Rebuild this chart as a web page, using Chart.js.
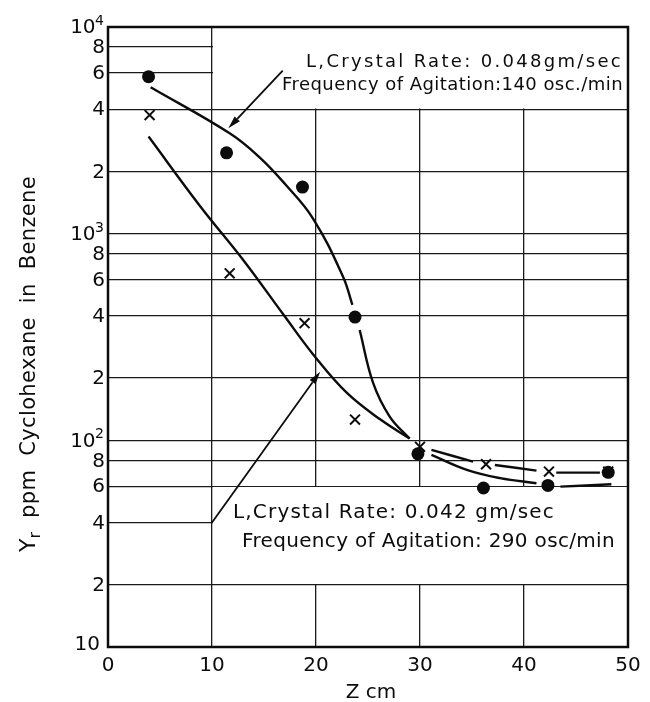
<!DOCTYPE html>
<html>
<head>
<meta charset="utf-8">
<script src="https://cdn.jsdelivr.net/npm/chart.js@4/dist/chart.umd.min.js"></script>
<style>
  html, body { margin: 0; padding: 0; background: #fff; }
  #wrap { width: 650px; height: 702px; }
</style>
</head>
<body>
<div id="wrap"><canvas id="c" width="650" height="702"></canvas></div>
<script>
// Measured points: residual cyclohexane Yr (ppm) against column height Z (cm)
const dotsZ  = [3.9, 11.4, 18.7, 23.75, 29.8, 36.1, 42.3, 48.1];   // 0.048 gm/sec, 140 osc/min
const dotsY  = [5750, 2460, 1680, 395, 86, 58.8, 60.5, 70];
const crossZ = [4.0, 11.7, 18.9, 23.75, 30.0, 36.35, 42.4, 48.1];  // 0.042 gm/sec, 290 osc/min
const crossY = [3750, 643, 369, 126, 93, 76.6, 70.6, 70.6];

// Hand-faired curves (null = pen lifted around a marker)
const curve140Z = [4.1, 11.7, 14.6, 17.0, 19.7, 22.6, 23.5, 23.75, 24.2, 25.5, 27.1, 29.0, 30.0, 31.1, 34.5, 37.7, 41.2, 42.3, 43.5, 48.4];
const curve140Y = [5110, 3060, 2336, 1744, 1187, 619, 452, null, 342, 189, 130, 102, null, 85, 71.9, 65.6, 62, null, 59.7, 61.3];
const curve290Z = [3.9, 8.9, 13.0, 16.9, 19.9, 23.0, 26.2, 29.0, 30.0, 31.1, 35.1, 36.35, 37.2, 41.2, 42.4, 43.1, 47.3];
const curve290Y = [2950, 1350, 746, 404, 254, 169, 126, 102, null, 89.9, 78.9, null, 76, 71.4, null, 69.8, 69.8];

// Axis ticks
const zTicks = [0, 10, 20, 30, 40, 50];
const yGrid  = [10, 20, 40, 60, 80, 100, 200, 400, 600, 800, 1000, 2000, 4000, 6000, 8000, 10000];
const yLabels = ['10', '2', '4', '6', '8', '10|2', '2', '4', '6', '8', '10|3', '2', '4', '6', '8', '10|4'];

// Annotation texts and arrows (from -> tip, in data units)
const note140 = ['L,Crystal Rate: 0.048gm/sec', 'Frequency of Agitation:140 osc./min'];
const note290 = ['L,Crystal Rate: 0.042 gm/sec', 'Frequency of Agitation: 290 osc/min'];
const arrow140 = [[16.8, 6150], [11.57, 3234]];
const arrow290 = [[10.0, 40], [20.4, 215]];

const FONT = '"DejaVu Sans", "Liberation Sans", sans-serif';
const INK = '#0c0c0c';

function pts(xs, ys) { return xs.map((x, i) => ({ x: x, y: ys[i] })); }

// break a faired curve into pen strokes wherever the value is null
function strokes(xs, ys) {
  const out = [];
  let cur = [];
  xs.forEach((x, i) => {
    if (ys[i] === null) { if (cur.length) out.push(cur); cur = []; }
    else cur.push({ x: x, y: ys[i] });
  });
  if (cur.length) out.push(cur);
  return out;
}

function curveSets(xs, ys, name) {
  return strokes(xs, ys).map((seg, k) => ({
    label: name + ' ' + (k + 1),
    data: seg,
    borderColor: INK, borderWidth: 2.4, pointRadius: 0,
    tension: 0.4, fill: false
  }));
}

function spacedText(ctx, text, x, y, width, size) {
  ctx.font = size + 'px ' + FONT;
  if ('letterSpacing' in ctx) {
    ctx.letterSpacing = '0px';
    const w = ctx.measureText(text).width;
    ctx.letterSpacing = ((width - w) / text.length) + 'px';
    ctx.fillText(text, x, y);
    ctx.letterSpacing = '0px';
  } else {
    const w = ctx.measureText(text).width;
    ctx.save();
    ctx.translate(x, y);
    ctx.scale(width / w, 1);
    ctx.fillText(text, 0, 0);
    ctx.restore();
  }
}

function drawArrow(ctx, x1, y1, x2, y2) {
  const ang = Math.atan2(y2 - y1, x2 - x1);
  const len = 13, half = 3.6;
  const bx = x2 - len * Math.cos(ang), by = y2 - len * Math.sin(ang);
  ctx.beginPath();
  ctx.moveTo(x1, y1);
  ctx.lineTo(bx, by);
  ctx.stroke();
  ctx.beginPath();
  ctx.moveTo(x2, y2);
  ctx.lineTo(bx + half * Math.sin(ang), by - half * Math.cos(ang));
  ctx.lineTo(bx - half * Math.sin(ang), by + half * Math.cos(ang));
  ctx.closePath();
  ctx.fill();
}

const paper = {
  id: 'paper',
  beforeDatasetsDraw(chart) {
    // blank label panels laid over the grid
    const { ctx, chartArea: a, scales: { x, y } } = chart;
    const x10 = x.getPixelForValue(10);
    ctx.save();
    ctx.fillStyle = '#fff';
    ctx.fillRect(x10 + 1, a.top + 1, a.right - x10 - 2, y.getPixelForValue(4000) - a.top - 1.8);
    const y60 = y.getPixelForValue(60), y20 = y.getPixelForValue(20);
    ctx.fillRect(x10 + 1, y60 + 0.8, a.right - x10 - 2, y20 - y60 - 1.6);
    ctx.restore();
  },
  afterDraw(chart) {
    const { ctx, chartArea: a, scales: { x, y } } = chart;
    ctx.save();
    ctx.strokeStyle = INK;
    ctx.fillStyle = INK;

    // frame
    ctx.lineWidth = 2.5;
    ctx.strokeRect(a.left, a.top, a.right - a.left, a.bottom - a.top);

    // y tick labels
    ctx.textAlign = 'right';
    yGrid.forEach((v, i) => {
      const py = y.getPixelForValue(v);
      const lab = yLabels[i];
      if (lab.indexOf('|') >= 0) {
        const parts = lab.split('|');
        ctx.font = '14px ' + FONT;
        ctx.textBaseline = 'alphabetic';
        const sw = ctx.measureText(parts[1]).width;
        ctx.fillText(parts[1], 104, py - 2);
        ctx.font = '20px ' + FONT;
        ctx.textBaseline = 'middle';
        ctx.fillText(parts[0], 104 - sw + 0.5, py + 1);
      } else if (v === 10) {
        ctx.font = '20px ' + FONT;
        ctx.textBaseline = 'middle';
        ctx.fillText(lab, 100, py - 2);
      } else {
        ctx.font = '20px ' + FONT;
        ctx.textBaseline = 'middle';
        ctx.fillText(lab, 105, py + 1);
      }
    });

    // x tick labels
    ctx.textAlign = 'center';
    ctx.textBaseline = 'middle';
    ctx.font = '20px ' + FONT;
    zTicks.forEach(v => ctx.fillText(String(v), x.getPixelForValue(v), 666));

    // x axis title
    ctx.textBaseline = 'alphabetic';
    ctx.fillText('Z cm', (a.left + a.right) / 2 + 3, 698);

    // y axis title, reading upwards, with subscript r
    ctx.save();
    ctx.translate(35, 364);
    ctx.rotate(-Math.PI / 2);
    ctx.textAlign = 'left';
    const total = 376;
    const rest = '  ppm  Cyclohexane  in  Benzene';
    ctx.font = '22px ' + FONT;
    const wY = ctx.measureText('Y').width;
    ctx.font = '16px ' + FONT;
    const wr = ctx.measureText('r').width;
    const startX = -total / 2;
    ctx.font = '22px ' + FONT;
    ctx.fillText('Y', startX, 0);
    ctx.font = '16px ' + FONT;
    ctx.fillText('r', startX + wY, 5);
    const restX = startX + wY + wr;
    spacedText(ctx, rest, restX, 0, total / 2 - restX, 21);
    ctx.restore();

    // annotations
    ctx.textAlign = 'left';
    ctx.textBaseline = 'alphabetic';
    spacedText(ctx, note140[0], 306, 67, 317, 18);
    spacedText(ctx, note140[1], 282, 90, 341, 18);
    spacedText(ctx, note290[0], 233, 518, 322, 20);
    spacedText(ctx, note290[1], 242, 547, 373, 20);

    ctx.lineWidth = 1.8;
    [arrow140, arrow290].forEach(ar => {
      drawArrow(ctx,
        x.getPixelForValue(ar[0][0]), y.getPixelForValue(ar[0][1]),
        x.getPixelForValue(ar[1][0]), y.getPixelForValue(ar[1][1]));
    });
    ctx.restore();
  }
};

const gridOpts = { color: '#1a1a1a', lineWidth: 1.3, drawTicks: false };

new Chart(document.getElementById('c'), {
  type: 'line',
  data: {
    datasets: [
      ...curveSets(curve140Z, curve140Y, '140 osc/min curve'),
      ...curveSets(curve290Z, curve290Y, '290 osc/min curve'),
      {
        label: '0.048 gm/sec, 140 osc/min',
        data: pts(dotsZ, dotsY),
        showLine: false, pointStyle: 'circle', pointRadius: 6.5,
        pointBackgroundColor: INK, pointBorderColor: INK, pointBorderWidth: 0
      },
      {
        label: '0.042 gm/sec, 290 osc/min',
        data: pts(crossZ, crossY),
        showLine: false, pointStyle: 'crossRot', pointRadius: 7,
        pointBorderColor: INK, pointBorderWidth: 2
      }
    ]
  },
  options: {
    responsive: false,
    animation: false,
    events: [],
    layout: { padding: { left: 108, top: 27, right: 22, bottom: 55 } },
    plugins: { legend: { display: false }, tooltip: { enabled: false } },
    scales: {
      x: {
        type: 'linear', min: 0, max: 50,
        afterBuildTicks: s => { s.ticks = zTicks.map(v => ({ value: v })); },
        ticks: { display: false },
        grid: gridOpts,
        border: { display: false }
      },
      y: {
        type: 'logarithmic', min: 10, max: 10000,
        afterBuildTicks: s => { s.ticks = yGrid.map(v => ({ value: v })); },
        ticks: { display: false },
        grid: gridOpts,
        border: { display: false }
      }
    }
  },
  plugins: [paper]
});
</script>
</body>
</html>
